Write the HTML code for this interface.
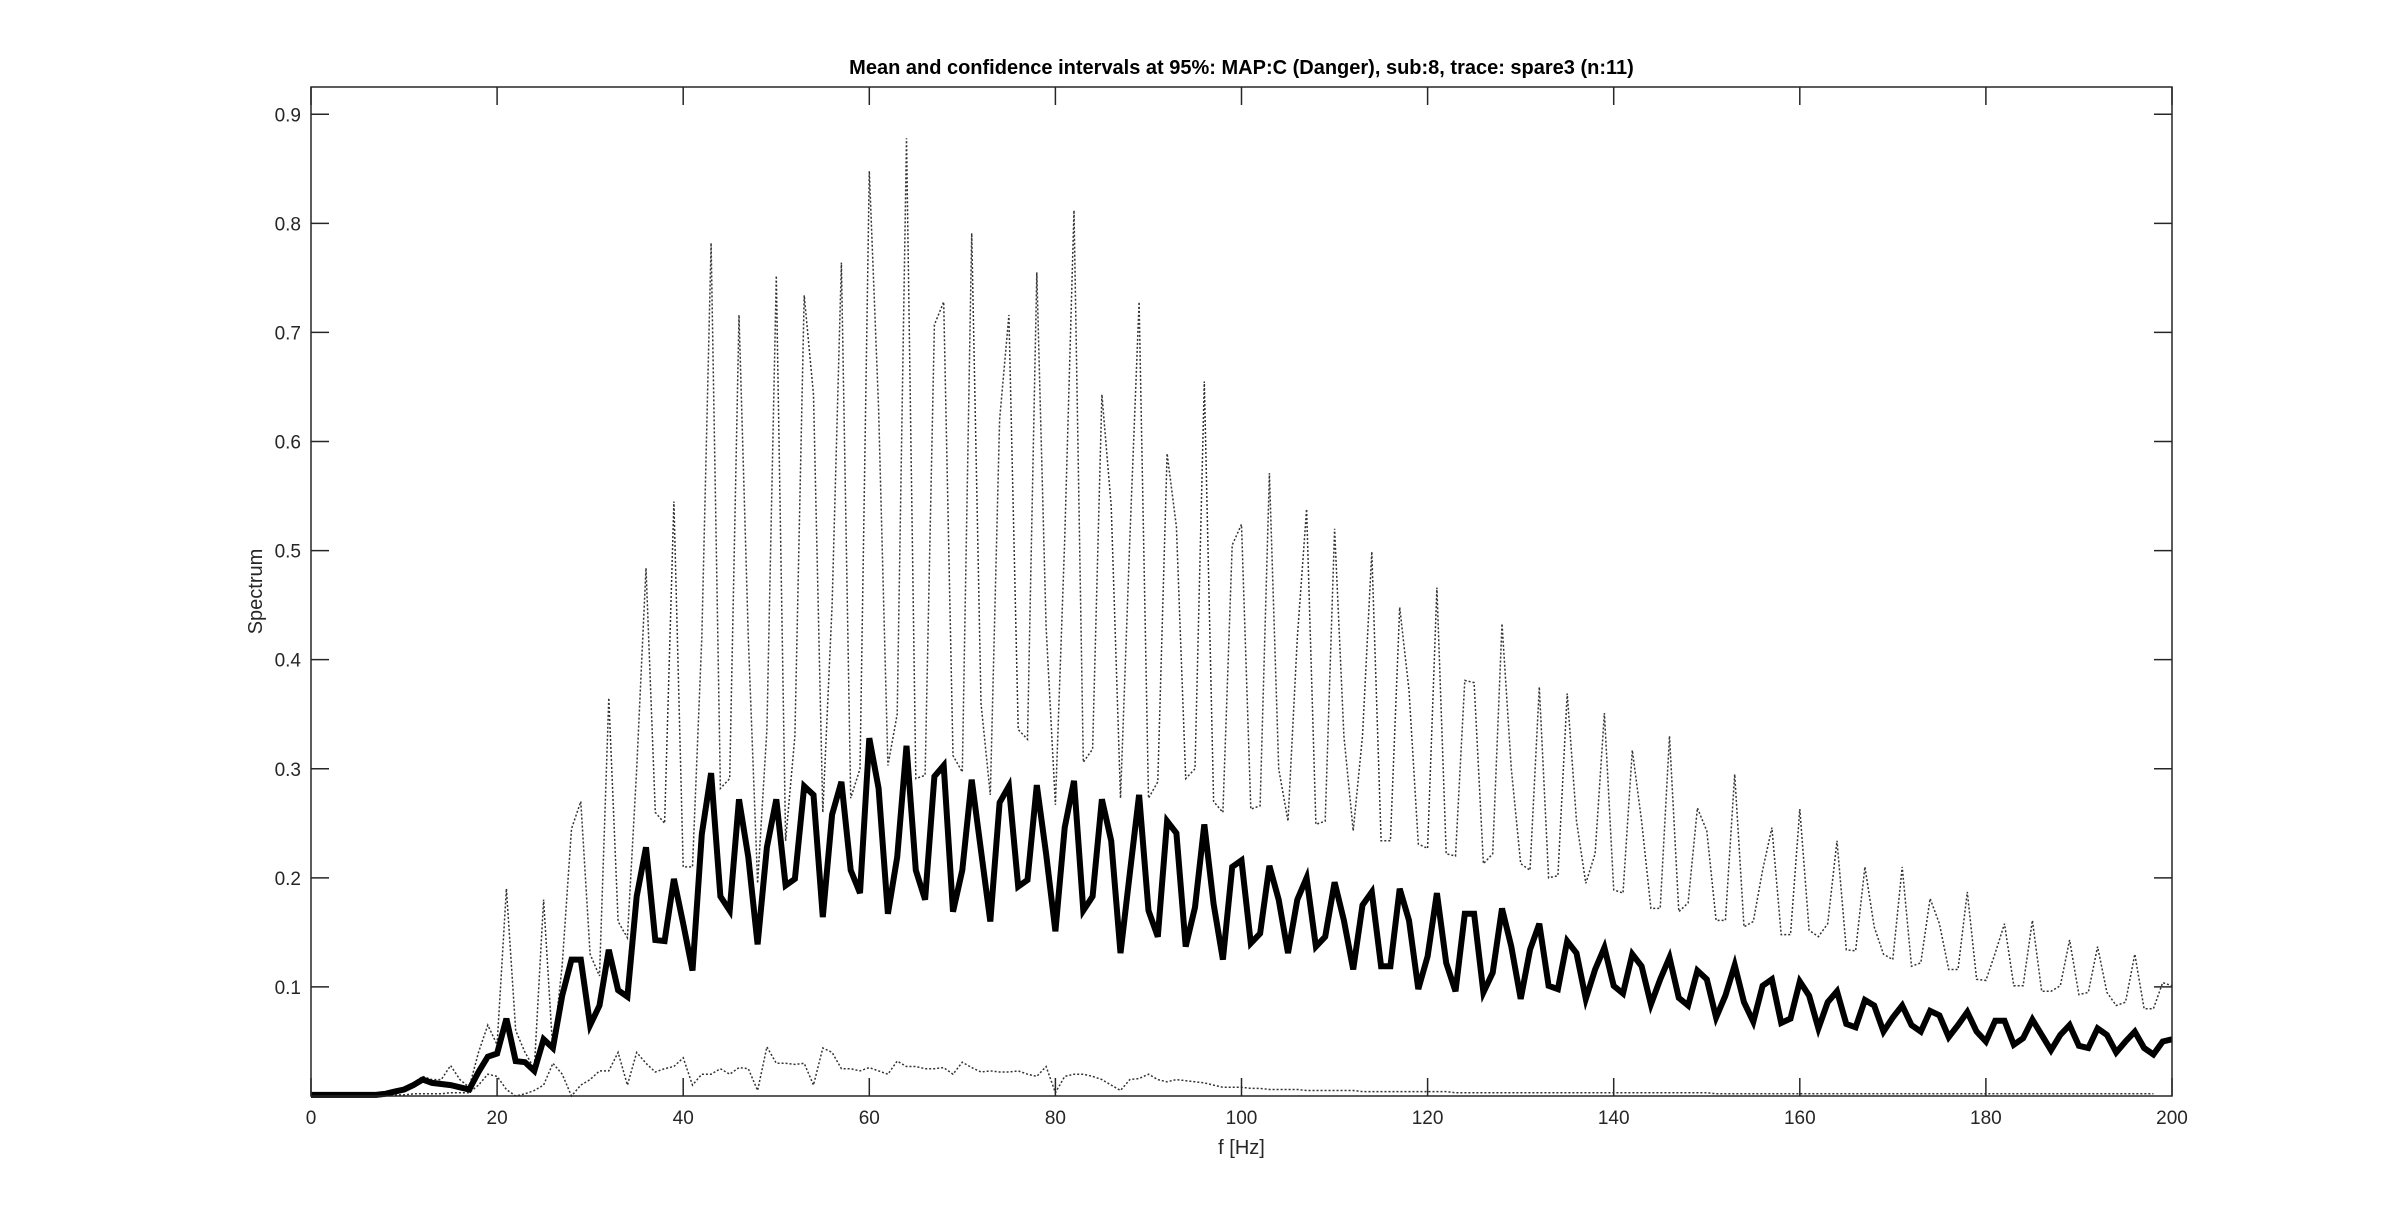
<!DOCTYPE html>
<html><head><meta charset="utf-8"><style>
html,body{margin:0;padding:0;background:#fff;}
svg{display:block;font-family:"Liberation Sans",Arial,sans-serif;}
</style></head><body>
<svg id="chart" width="2400" height="1232" viewBox="0 0 2400 1232">
<rect x="0" y="0" width="2400" height="1232" fill="#fff"/>
<g id="plot"></g>
</svg>
<script>
const freqStart = 0;
const freqStep = 1;
const meanVals = [0.001,0.001,0.001,0.001,0.001,0.001,0.001,0.001,0.002,0.004,0.006,0.01,0.015,0.012,0.011,0.01,0.008,0.006,0.022,0.036,0.039,0.071,0.032,0.031,0.023,0.052,0.044,0.092,0.125,0.125,0.065,0.083,0.134,0.097,0.091,0.183,0.228,0.143,0.142,0.199,0.158,0.115,0.24,0.296,0.183,0.17,0.272,0.219,0.139,0.228,0.272,0.193,0.199,0.284,0.276,0.164,0.258,0.288,0.207,0.186,0.328,0.282,0.167,0.219,0.321,0.207,0.18,0.293,0.303,0.169,0.207,0.29,0.225,0.16,0.269,0.284,0.192,0.198,0.285,0.222,0.151,0.246,0.289,0.17,0.183,0.272,0.234,0.131,0.204,0.276,0.17,0.146,0.252,0.241,0.137,0.173,0.249,0.176,0.125,0.21,0.216,0.14,0.149,0.211,0.18,0.131,0.18,0.2,0.137,0.146,0.196,0.161,0.116,0.175,0.187,0.119,0.119,0.19,0.161,0.098,0.128,0.186,0.122,0.096,0.167,0.167,0.095,0.113,0.172,0.137,0.089,0.134,0.158,0.101,0.098,0.142,0.131,0.089,0.116,0.136,0.101,0.094,0.13,0.119,0.084,0.107,0.127,0.09,0.083,0.115,0.107,0.072,0.092,0.12,0.086,0.068,0.101,0.107,0.067,0.071,0.105,0.092,0.062,0.086,0.096,0.066,0.063,0.088,0.083,0.059,0.072,0.083,0.065,0.059,0.078,0.074,0.054,0.065,0.077,0.059,0.05,0.069,0.069,0.047,0.053,0.07,0.056,0.042,0.056,0.065,0.046,0.044,0.062,0.056,0.04,0.05,0.059,0.044,0.038,0.05,0.052];
const upperVals = [0.002,0.002,0.002,0.002,0.002,0.002,0.002,0.002,0.002,0.005,0.008,0.012,0.018,0.015,0.015,0.028,0.015,0.008,0.04,0.065,0.047,0.19,0.06,0.04,0.025,0.18,0.04,0.12,0.245,0.27,0.13,0.11,0.365,0.16,0.145,0.3,0.484,0.26,0.25,0.545,0.21,0.21,0.42,0.782,0.282,0.291,0.716,0.42,0.195,0.336,0.752,0.234,0.33,0.734,0.643,0.26,0.45,0.764,0.273,0.3,0.848,0.63,0.303,0.35,0.878,0.291,0.294,0.707,0.728,0.312,0.297,0.791,0.36,0.276,0.62,0.716,0.336,0.327,0.755,0.43,0.267,0.51,0.812,0.306,0.318,0.643,0.541,0.273,0.51,0.728,0.273,0.288,0.589,0.522,0.291,0.3,0.655,0.27,0.26,0.505,0.524,0.263,0.266,0.571,0.3,0.252,0.42,0.538,0.249,0.252,0.52,0.33,0.243,0.33,0.499,0.234,0.234,0.448,0.372,0.231,0.227,0.466,0.222,0.22,0.381,0.379,0.213,0.222,0.433,0.3,0.213,0.207,0.375,0.2,0.202,0.369,0.252,0.195,0.222,0.351,0.189,0.186,0.317,0.252,0.172,0.172,0.33,0.169,0.177,0.264,0.243,0.161,0.161,0.295,0.155,0.16,0.207,0.246,0.148,0.148,0.263,0.152,0.146,0.158,0.234,0.134,0.133,0.21,0.155,0.13,0.125,0.21,0.119,0.122,0.181,0.158,0.116,0.116,0.187,0.107,0.106,0.131,0.158,0.101,0.101,0.161,0.096,0.096,0.101,0.143,0.093,0.095,0.137,0.095,0.083,0.086,0.13,0.08,0.08,0.104,0.101];
const lowerVals = [0.001,0.001,0.001,0.001,0.001,0.001,0.001,0.001,0.001,0.001,0.001,0.002,0.002,0.002,0.002,0.003,0.003,0.003,0.01,0.02,0.018,0.006,0.0,0.002,0.005,0.01,0.03,0.02,0.0,0.01,0.015,0.023,0.023,0.04,0.01,0.04,0.03,0.022,0.025,0.027,0.035,0.01,0.02,0.02,0.025,0.02,0.026,0.025,0.005,0.045,0.03,0.03,0.029,0.03,0.01,0.044,0.04,0.025,0.025,0.023,0.026,0.023,0.02,0.032,0.027,0.027,0.025,0.025,0.026,0.02,0.031,0.026,0.022,0.023,0.022,0.022,0.023,0.02,0.018,0.027,0.003,0.018,0.02,0.02,0.018,0.015,0.01,0.005,0.015,0.016,0.02,0.015,0.013,0.015,0.014,0.013,0.012,0.01,0.008,0.008,0.008,0.007,0.007,0.006,0.006,0.006,0.006,0.005,0.005,0.005,0.005,0.005,0.005,0.004,0.004,0.004,0.004,0.004,0.004,0.004,0.004,0.004,0.004,0.003,0.003,0.003,0.003,0.003,0.003,0.003,0.003,0.003,0.003,0.003,0.003,0.003,0.003,0.003,0.003,0.003,0.003,0.003,0.003,0.003,0.003,0.003,0.003,0.003,0.003,0.003,0.003,0.002,0.002,0.002,0.002,0.002,0.002,0.002,0.002,0.002,0.002,0.002,0.002,0.002,0.002,0.002,0.002,0.002,0.002,0.002,0.002,0.002,0.002,0.002,0.002,0.002,0.002,0.002,0.002,0.002,0.002,0.002,0.002,0.002,0.002,0.002,0.002,0.002,0.002,0.002,0.002,0.002,0.002,0.002,0.002,0.002,0.002,0.002,0.002];
const xTickVals = [0,20,40,60,80,100,120,140,160,180,200];
const xTickLabels = ["0","20","40","60","80","100","120","140","160","180","200"];
const yTickVals = [0.1,0.2,0.3,0.4,0.5,0.6,0.7,0.8,0.9];
const yTickLabels = ["0.1","0.2","0.3","0.4","0.5","0.6","0.7","0.8","0.9"];
const xDomain = [0,200];
const yDomain = [0,0.925];

const L=311,R=2172,T=87,B=1096;
const NS="http://www.w3.org/2000/svg";
const g=document.getElementById('plot');
function sx(v){return L+(v-xDomain[0])/(xDomain[1]-xDomain[0])*(R-L);}
function sy(v){return B-(v-yDomain[0])/(yDomain[1]-yDomain[0])*(B-T);}
function mk(tag,attrs){const e=document.createElementNS(NS,tag);for(const k in attrs)e.setAttribute(k,attrs[k]);g.appendChild(e);return e;}
function pts(arr){return arr.map((v,i)=>sx(freqStart+i*freqStep).toFixed(1)+','+sy(v).toFixed(1)).join(' ');}

let e=mk('rect',{x:L,y:T,width:R-L,height:B-T,fill:'#fff',stroke:'none'});



e=mk('polyline',{points:pts(upperVals),fill:'none',stroke:'#333','stroke-width':1.5,'stroke-dasharray':'2 2'});


e=mk('polyline',{points:pts(lowerVals),fill:'none',stroke:'#333','stroke-width':1.5,'stroke-dasharray':'2 2'});


e=mk('polyline',{points:pts(meanVals),fill:'none',stroke:'#000','stroke-width':6,'stroke-linejoin':'miter'});



e=mk('rect',{x:L,y:T,width:R-L,height:B-T,fill:'none',stroke:'#262626','stroke-width':1.5});



const TL=18;
xTickVals.forEach((v,i)=>{
  const x=sx(v);
  let t=mk('line',{x1:x,y1:B,x2:x,y2:B-TL,stroke:'#262626','stroke-width':1.5});
  
  
  t=mk('line',{x1:x,y1:T,x2:x,y2:T+TL,stroke:'#262626','stroke-width':1.5});
  
  
  t=mk('text',{x:x,y:B+28,'font-size':19,'text-anchor':'middle',fill:'#262626'});
  t.textContent=xTickLabels[i];
  
  
});
yTickVals.forEach((v,i)=>{
  const y=sy(v);
  let t=mk('line',{x1:L,y1:y,x2:L+TL,y2:y,stroke:'#262626','stroke-width':1.5});
  
  
  t=mk('line',{x1:R,y1:y,x2:R-TL,y2:y,stroke:'#262626','stroke-width':1.5});
  
  
  t=mk('text',{x:L-10,y:y+7,'font-size':19,'text-anchor':'end',fill:'#262626'});
  t.textContent=yTickLabels[i];
  
  
});

e=mk('text',{x:(L+R)/2,y:B+58,'font-size':20,'text-anchor':'middle',fill:'#262626'});
e.textContent='f [Hz]';


e=mk('text',{x:0,y:0,'font-size':20,'text-anchor':'middle',fill:'#262626',transform:'translate(262,'+((T+B)/2)+') rotate(-90)'});
e.textContent='Spectrum';


e=mk('text',{x:(L+R)/2,y:T-13,'font-size':20,'font-weight':'bold','text-anchor':'middle',fill:'#000'});
e.textContent='Mean and confidence intervals at 95%: MAP:C (Danger), sub:8, trace: spare3 (n:11)';


</script>
</body></html>
